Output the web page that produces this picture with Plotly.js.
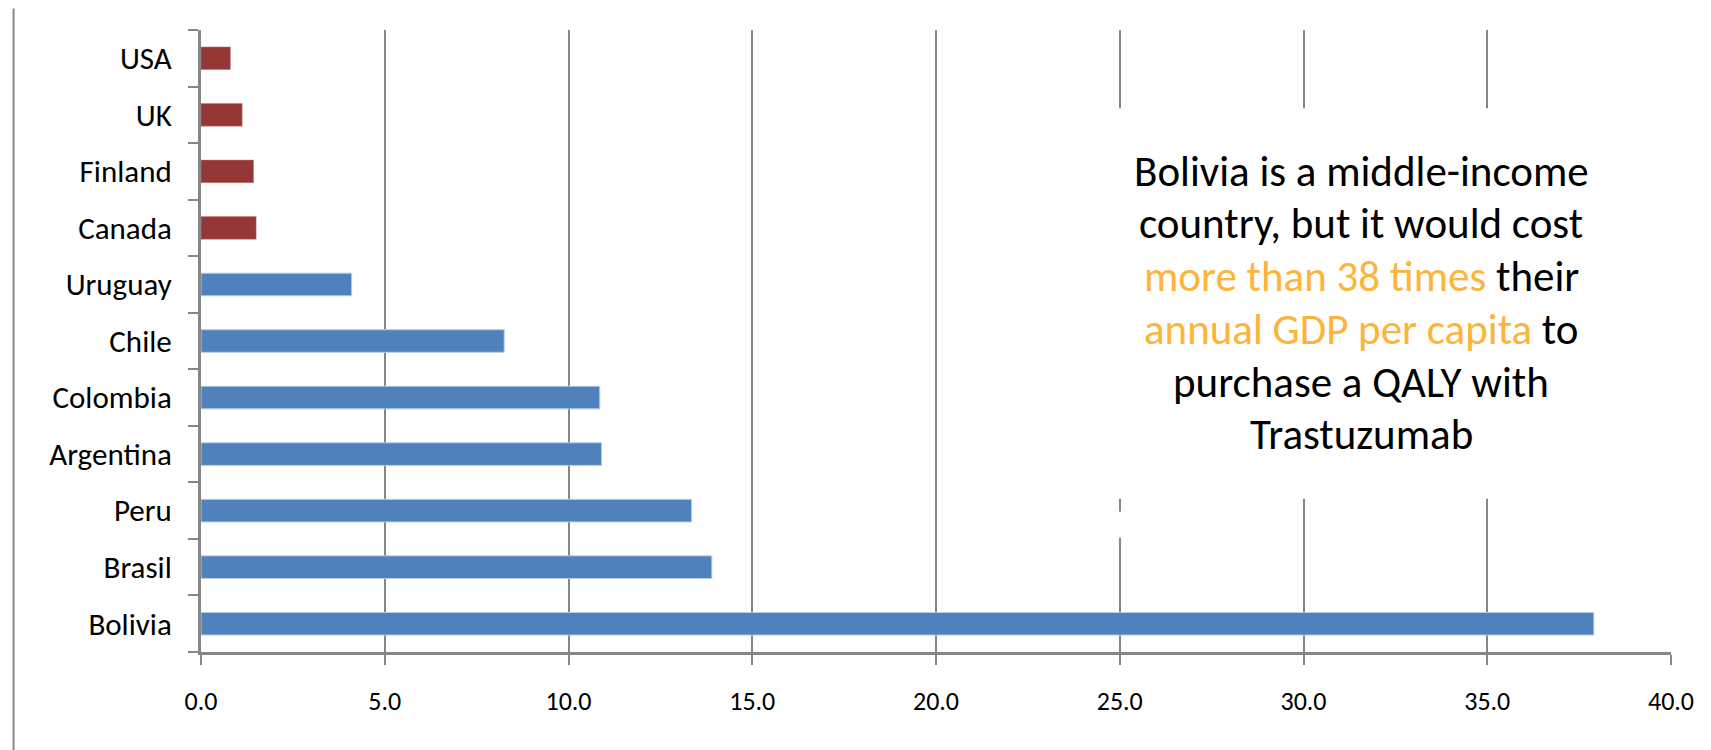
<!DOCTYPE html>
<html>
<head>
<meta charset="utf-8">
<script src="https://cdn.plot.ly/plotly-3.0.1.min.js"></script>
<style>html,body{margin:0;padding:0;background:#fff;}#chart{width:1711px;height:750px;}</style>
</head>
<body>
<div id="chart"></div>
<script>
// Category order, bottom to top
const categories = ["Bolivia","Brasil","Peru","Argentina","Colombia","Chile","Uruguay","Canada","Finland","UK","USA"];
// Latin American countries (blue)
const latamCountries = ["Bolivia","Brasil","Peru","Argentina","Colombia","Chile","Uruguay"];
const latamValues    = [37.9, 13.9, 13.35, 10.9, 10.85, 8.25, 4.1];
// High-income countries (red)
const highCountries  = ["Canada","Finland","UK","USA"];
const highValues     = [1.5, 1.43, 1.12, 0.8];
// Axis ticks
const xTickValues = [0,5,10,15,20,25,30,35,40];
// Annotation lines
const ORANGE = "#FDB43B";
const noteLines = [
  "Bolivia is a middle-income",
  "country, but it would cost",
  "<span style='color:" + ORANGE + "'>more than 38 times</span> their",
  "<span style='color:" + ORANGE + "'>annual GDP per capita</span> to",
  "purchase a QALY with",
  "Trastuzumab"
];

const FONT = "Carlito, Lato, 'Open Sans', sans-serif";
const GRAY = "#868686";

const traces = [
  {type:"bar", orientation:"h", y:latamCountries, x:latamValues, width:0.4,
   marker:{color:"#4F81BD", line:{color:"#B9CDE5", width:1}}, hoverinfo:"x+y"},
  {type:"bar", orientation:"h", y:highCountries, x:highValues, width:0.4,
   marker:{color:"#953735", line:{color:"#C08080", width:0.5}}, hoverinfo:"x+y"}
];

const L=200.5, R=40, T=29.5, B=97.5, W=1711, H=750;
const pw=W-L-R, ph=H-T-B;
const px=X=>(X-L)/pw, py=Y=>(H-B-Y)/ph;

const LINE_GAP = 52.8, BLOCK_MID = 303;
const annotations = noteLines.map((t,i)=>({
  xref:"paper", yref:"paper", x:px(1361),
  y:py(BLOCK_MID + (i - (noteLines.length-1)/2)*LINE_GAP),
  xanchor:"center", yanchor:"middle", showarrow:false, align:"center", borderpad:0,
  font:{size:43, family:FONT, color:"#000"}, text:t
}));

const layout = {
  width:W, height:H, showlegend:false, barmode:"overlay",
  paper_bgcolor:"#fff", plot_bgcolor:"#fff",
  margin:{l:L, r:R, t:T, b:B},
  font:{family:FONT, color:"#000"},
  xaxis:{range:[0,40], tickvals:xTickValues, tickformat:".1f",
    showgrid:true, gridcolor:GRAY, gridwidth:2,
    showline:true, linecolor:GRAY, linewidth:3,
    ticks:"outside", ticklen:10, tickwidth:2, tickcolor:GRAY,
    ticklabelstandoff:14, zeroline:false,
    tickfont:{size:26, family:FONT, color:"#000"}, fixedrange:true},
  yaxis:{type:"category", categoryorder:"array", categoryarray:categories,
    range:[-0.5,10.5], showgrid:false, zeroline:false,
    showline:true, linecolor:GRAY, linewidth:3,
    ticks:"outside", tickson:"boundaries", ticklen:10, tickwidth:2, tickcolor:GRAY,
    ticklabelstandoff:20,
    tickfont:{size:31, family:FONT, color:"#000"}, fixedrange:true},
  shapes:[
    {type:"rect", xref:"paper", yref:"paper", layer:"above",
     x0:px(1095), x1:px(1695), y0:py(499), y1:py(108),
     fillcolor:"#fff", line:{width:0}},
    {type:"rect", xref:"paper", yref:"paper", layer:"above",
     x0:px(1113), x1:px(1121), y0:py(538), y1:py(512),
     fillcolor:"#fff", line:{width:0}},
    {type:"line", xref:"paper", yref:"paper",
     x0:px(13), x1:px(13), y0:py(752), y1:py(8),
     line:{color:GRAY, width:2}}
  ],
  annotations:annotations
};

Plotly.newPlot("chart", traces, layout, {displayModeBar:false, staticPlot:true});
</script>
</body>
</html>
